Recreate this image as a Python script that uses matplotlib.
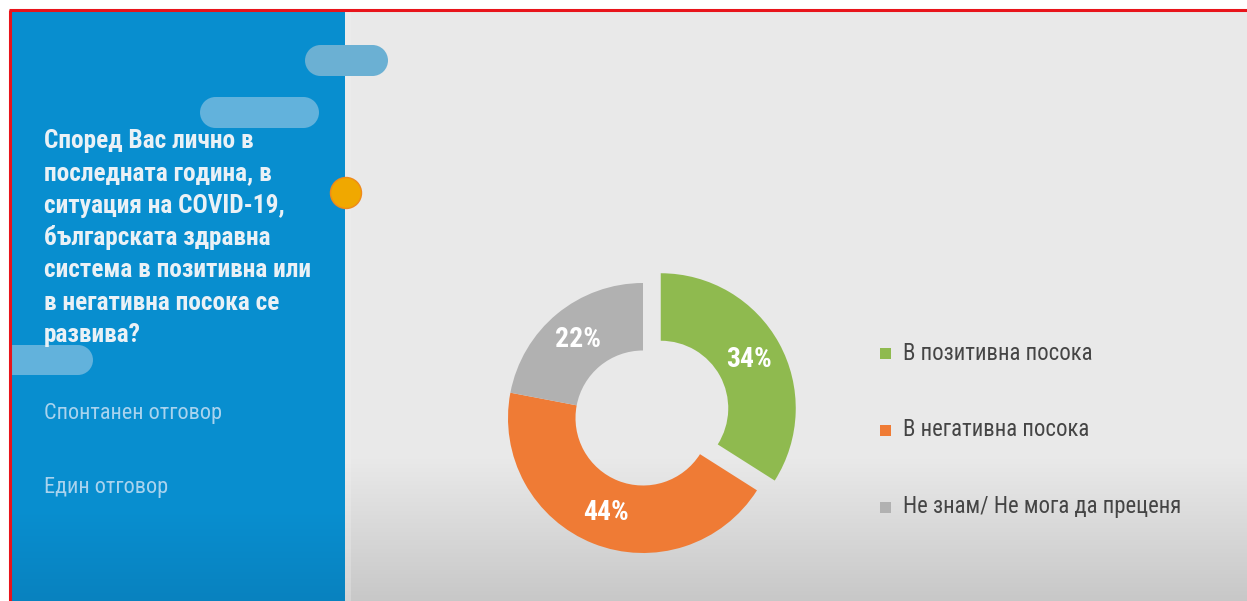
import matplotlib
matplotlib.use("Agg")
import matplotlib.pyplot as plt
import numpy as np
from matplotlib import font_manager
from matplotlib.patches import Circle, Rectangle

# ---- data ----
categories = ["В позитивна посока", "В негативна посока", "Не знам/ Не мога да преценя"]
values = [34, 44, 22]
colors = ["#8fba4f", "#ef7b35", "#b1b1b1"]
title_lines = ["Според Вас лично в", "последната година, в", "ситуация на COVID-19,",
               "българската здравна", "система в позитивна или", "в негативна посока се",
               "развива?"]
notes = ["Спонтанен отговор", "Един отговор"]

names = {f.name for f in font_manager.fontManager.ttflist}
FONT = "Roboto Condensed" if "Roboto Condensed" in names else "Roboto"

W, H = 1247, 601
fig = plt.figure(figsize=(W / 100, H / 100), dpi=100)
fig.patch.set_facecolor("white")
bg = fig.add_axes([0, 0, 1, 1])
bg.set_xlim(0, W)
bg.set_ylim(H, 0)
bg.axis("off")

ys = np.linspace(10, H, 300)

# right panel vertical gradient
shade = np.where(ys < 460, 0.914, 0.914 - (ys - 460) / (H - 460) * 0.13)
img = np.stack([shade, shade, shade], axis=-1).reshape(300, 1, 3)
bg.imshow(img, extent=[10, W, H, 10], aspect="auto", zorder=0, interpolation="bilinear")
bg.add_patch(Rectangle((345, 10), 6, H, fc="#f2f2f2", ec="none", alpha=0.3, zorder=0.5))

# blue panel vertical gradient
t = np.clip((ys - 510) / (H - 510), 0, 1)
r = 0.035 * (1 - t) + 0.035 * t
g = 0.56 * (1 - t) + 0.51 * t
b = 0.815 * (1 - t) + 0.75 * t
img2 = np.stack([r, g, b], axis=-1).reshape(300, 1, 3)
bg.imshow(img2, extent=[10, 345, H, 10], aspect="auto", zorder=1, interpolation="bilinear")

# red frame
bg.plot([9, W], [10, 10], color="#e8141b", lw=2.2, zorder=10, solid_capstyle="butt")
bg.plot([10, 10], [10, H], color="#e8141b", lw=2.2, zorder=10, solid_capstyle="butt")

# decorative pills
def pill(x0, x1, y0, y1, color, clip=None):
    h = y1 - y0
    rr = h / 2
    parts = [Rectangle((x0 + rr, y0), (x1 - x0) - h, h, fc=color, ec="none", zorder=3),
             Circle((x0 + rr, y0 + rr), rr, fc=color, ec="none", zorder=3),
             Circle((x1 - rr, y0 + rr), rr, fc=color, ec="none", zorder=3)]
    for p in parts:
        bg.add_patch(p)
        if clip is not None:
            p.set_clip_path(clip)

pill(305, 388, 45, 76, "#6bb0d3")
pill(200, 319, 97, 128, "#62b2dc")
clip_rect = Rectangle((11, 0), 400, H, transform=bg.transData, visible=False)
bg.add_patch(clip_rect)
pill(-30, 93, 345, 375, "#62b2dc", clip=clip_rect)
bg.add_patch(Circle((346, 193), 15.5, fc="#f0a800", ec="#ef8a1a", lw=1, zorder=4))

# title
for i, line in enumerate(title_lines):
    bg.text(44, 141 + i * 32.3, line, fontsize=18.3, fontweight="bold", color="#eaf1f6",
            family=FONT, va="center", ha="left", zorder=5)
bg.text(44, 413, notes[0], fontsize=16, color="#a9d3ee", family=FONT, va="center", zorder=5)
bg.text(44, 487, notes[1], fontsize=16, color="#a9d3ee", family=FONT, va="center", zorder=5)

# legend
for i, (cat, col) in enumerate(zip(categories, colors)):
    y = 353 + i * 77
    bg.add_patch(Rectangle((880, y - 5.5), 11, 11, fc=col, ec="none", zorder=5))
    bg.text(903, y, cat, fontsize=16.4, color="#454545", family=FONT, va="center", zorder=5)

# donut
cx, cy, R, S = 643, 418, 135, 160
ax = fig.add_axes([(cx - S) / W, (H - cy - S) / H, 2 * S / W, 2 * S / H])
ax.axis("off")
wedges, texts, autotexts = ax.pie(values, colors=colors, startangle=90, counterclock=False,
                                  explode=[0.15, 0, 0], radius=1,
                                  wedgeprops=dict(width=0.5, edgecolor="none"),
                                  autopct=lambda p: f"{p:.0f}%", pctdistance=0.75,
                                  textprops=dict(color="white", fontsize=20, fontweight="bold",
                                                 family=FONT))
ax.set_xlim(-S / R, S / R)
ax.set_ylim(-S / R, S / R)
for w in wedges:
    w.set_clip_on(False)

fig.savefig("out.png", dpi=100)
